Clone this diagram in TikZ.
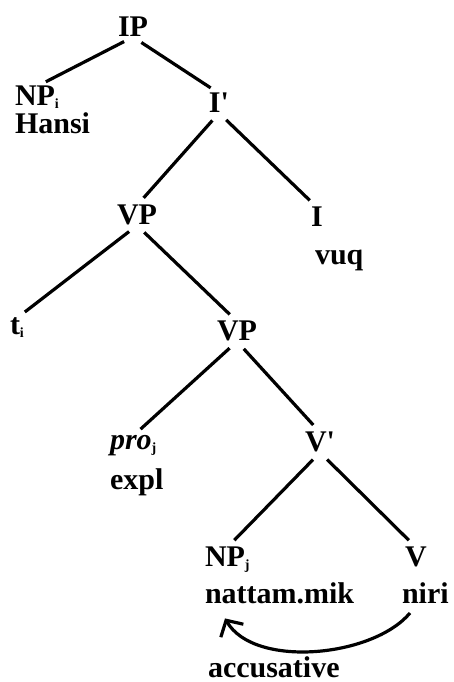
\documentclass[tikz,border=0pt]{standalone}
\usepackage{fontspec}
\newfontfamily\treefont{Liberation Serif}
\usetikzlibrary{arrows.meta}
\newcommand{\idx}[1]{\raisebox{-3pt}{\fontsize{14}{14}\selectfont #1}}

\begin{document}
\begin{tikzpicture}[x=1pt, y=1pt,
  every node/.style={inner sep=0pt, outer sep=0pt, font=\treefont\bfseries\fontsize{30}{30}\selectfont},
  cat/.style={anchor=base},
  word/.style={anchor=base west},
  branch/.style={line width=3.2pt, shorten <=10pt, shorten >=10pt}]
\useasboundingbox (0,0) rectangle (454,682);

\node[cat] (ip) at (133,645) {IP};
\node[word] (npi) at (15,576) {NP\idx{i}};
\node[word] (hansi) at (15,548) {Hansi};
\node[cat] (ibar) at (219,569) {I\textquotesingle};
\node[cat] (vp) at (137,457) {VP};
\node[cat] (infl) at (317,455) {I};
\node[word] (vuq) at (315,417) {vuq};
\node[word] (ti) at (10,347) {t\idx{i}};
\node[cat] (vp2) at (237,341) {VP};
\node[word] (pro) at (110,232) {\textit{pro}\idx{j}};
\node[word] (expl) at (110,192) {expl};
\node[cat] (vbar) at (320,230) {V\textquotesingle};
\node[word] (npj) at (205,115) {NP\idx{j}};
\node[word] (nattam) at (205,78) {nattam.mik};
\node[cat] (verb) at (416,115) {V};
\node[word] (niri) at (402,78) {niri};
\node[word] (acc) at (208,5) {accusative};

\draw[branch] (ip.south) -- (npi.north);
\draw[branch] (ip.south) -- (ibar.north);
\draw[branch] (ibar.south) -- (vp.north);
\draw[branch] (ibar.south) -- (infl.north);
\draw[branch] (vp.south) -- (ti.north);
\draw[branch] (vp.south) -- (vp2.north);
\draw[branch] (vp2.south) -- (pro.north);
\draw[branch] (vp2.south) -- (vbar.north);
\draw[branch] (vbar.south) -- (npj.north);
\draw[branch] (vbar.south) -- (verb.north);

\draw[line width=3.2pt, -{Straight Barb[length=12pt,width=26pt]}] ([shift={(8,-9)}]niri.south west) to[out=-130, in=-60, looseness=0.8] ([shift={(20,-14)}]nattam.south west);
\end{tikzpicture}
\end{document}
